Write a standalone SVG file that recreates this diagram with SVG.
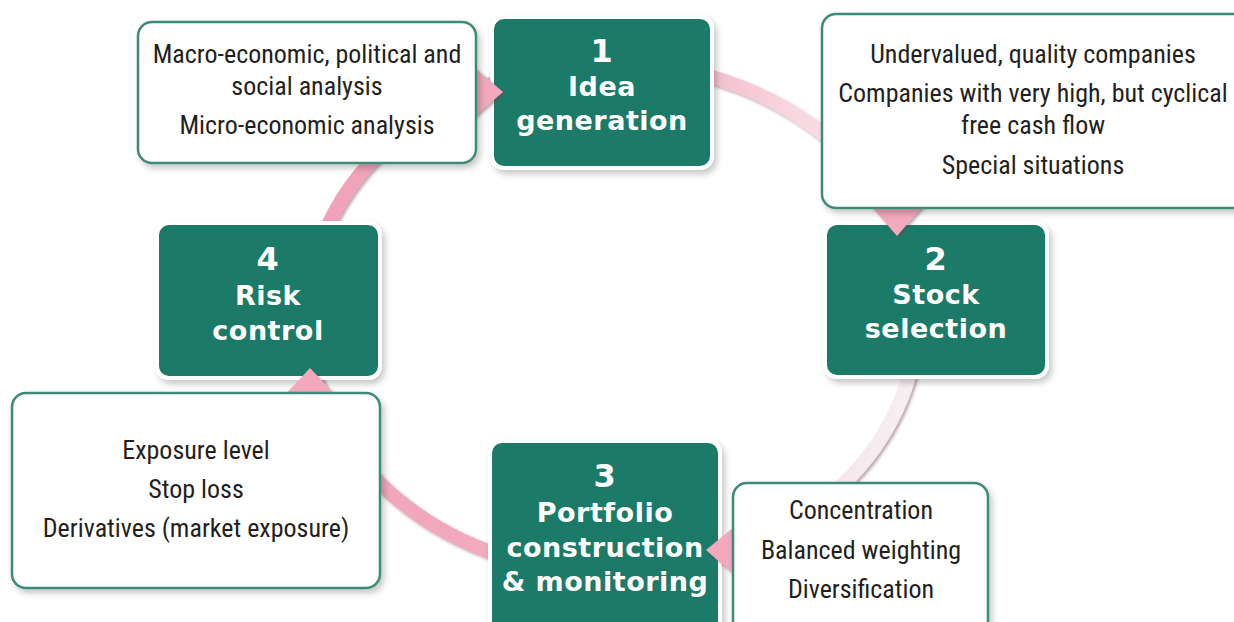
<svg xmlns="http://www.w3.org/2000/svg" width="1234" height="622" viewBox="0 0 1234 622">
<defs>
<linearGradient id="ringGrad" gradientUnits="userSpaceOnUse" x1="300" y1="300" x2="920" y2="400">
<stop offset="0" stop-color="#f0a2b9"/>
<stop offset="0.5" stop-color="#f2aec1"/>
<stop offset="0.72" stop-color="#f8d6e0"/>
<stop offset="1" stop-color="#f6f1f2"/>
</linearGradient>
<filter id="shadow" x="-10%" y="-10%" width="125%" height="130%">
<feDropShadow dx="3" dy="4" stdDeviation="3" flood-color="#000" flood-opacity="0.22"/>
</filter>
<filter id="ringShadow" x="-10%" y="-10%" width="120%" height="120%">
<feDropShadow dx="2" dy="2" stdDeviation="1.5" flood-color="#6b3a48" flood-opacity="0.45"/>
</filter>
<style>
.step rect{fill:#1b7a68;stroke:#ffffff;stroke-width:4;filter:url(#shadow)}
.step text{fill:#ffffff;font-family:"DejaVu Sans",Verdana,sans-serif;font-weight:bold;text-anchor:middle;letter-spacing:0.5px}
.step .num{font-size:32px}
.step .lbl{font-size:27px}
.note rect{fill:#ffffff;stroke:#3d8a79;stroke-width:2.5;filter:url(#shadow)}
.note text{fill:#231f20;font-family:"Liberation Sans Narrow","Roboto Condensed","Liberation Sans",sans-serif;font-size:26px;text-anchor:middle}
.arrowhead{fill:#f2a9bd;filter:url(#ringShadow)}
</style>
</defs>
<rect width="1234" height="622" fill="#ffffff"/>
<g id="connectors">
<ellipse cx="612" cy="318" rx="305" ry="255" fill="none" stroke="url(#ringGrad)" stroke-width="14" filter="url(#ringShadow)"/>
</g>
<g id="step1" class="step">
<rect x="492" y="17" width="220" height="151" rx="12"/>
<text class="num" x="602" y="62">1</text>
<text class="lbl" x="602" y="96">Idea</text>
<text class="lbl" x="602" y="130">generation</text>
</g>
<g id="step2" class="step">
<rect x="825" y="223" width="222" height="154" rx="12"/>
<text class="num" x="936" y="270">2</text>
<text class="lbl" x="936" y="304">Stock</text>
<text class="lbl" x="936" y="338">selection</text>
</g>
<g id="step3" class="step">
<rect x="490" y="441" width="230" height="200" rx="12"/>
<text class="num" x="605" y="487">3</text>
<text class="lbl" x="605" y="522">Portfolio</text>
<text class="lbl" x="605" y="557">construction</text>
<text class="lbl" x="605" y="591">&amp; monitoring</text>
</g>
<g id="step4" class="step">
<rect x="157" y="223" width="223" height="155" rx="12"/>
<text class="num" x="268" y="270">4</text>
<text class="lbl" x="268" y="305">Risk</text>
<text class="lbl" x="268" y="340">control</text>
</g>
<g id="arrowheads">
<polygon class="arrowhead" points="468,62 503,92 468,122"/>
<polygon class="arrowhead" points="866,200 897,236 928,200"/>
<polygon class="arrowhead" points="740,522 706,550 740,580"/>
<polygon class="arrowhead" points="280,400 310,368 340,400"/>
</g>
<g id="noteA" class="note">
<rect x="138" y="22" width="338" height="141" rx="14"/>
<text x="307" y="63">Macro-economic, political and</text>
<text x="307" y="95">social analysis</text>
<text x="307" y="134">Micro-economic analysis</text>
</g>
<g id="noteB" class="note">
<rect x="822" y="14" width="430" height="194" rx="14"/>
<text x="1033" y="63">Undervalued, quality companies</text>
<text x="1033" y="102">Companies with very high, but cyclical</text>
<text x="1033" y="134">free cash flow</text>
<text x="1033" y="174">Special situations</text>
</g>
<g id="noteC" class="note">
<rect x="733" y="483" width="255" height="160" rx="14"/>
<text x="861" y="519">Concentration</text>
<text x="861" y="559">Balanced weighting</text>
<text x="861" y="598">Diversification</text>
</g>
<g id="noteD" class="note">
<rect x="12" y="393" width="368" height="195" rx="14"/>
<text x="196" y="459">Exposure level</text>
<text x="196" y="498">Stop loss</text>
<text x="196" y="537">Derivatives (market exposure)</text>
</g>
</svg>
